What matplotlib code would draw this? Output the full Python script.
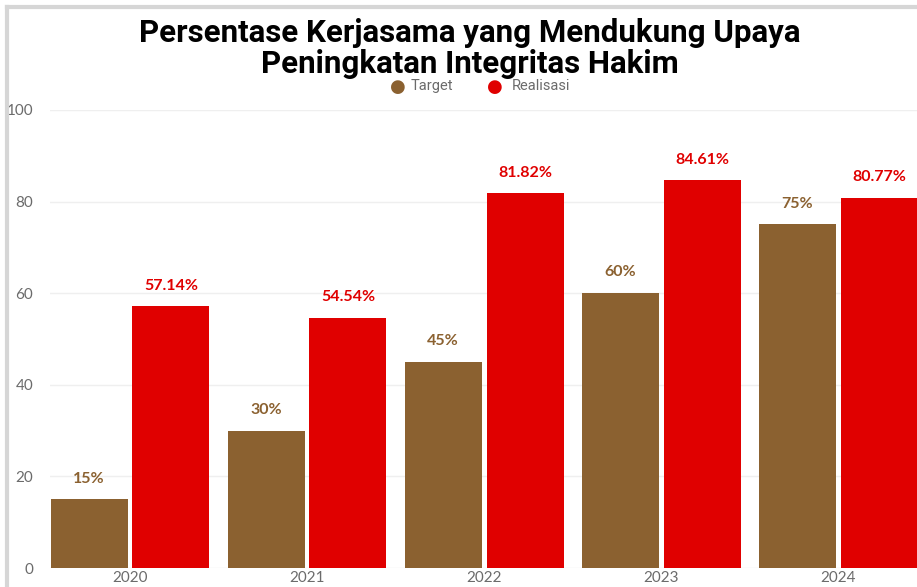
import numpy as np
import matplotlib.pyplot as plt
from matplotlib.lines import Line2D

# data
years = ['2020', '2021', '2022', '2023', '2024']
target = [15, 30, 45, 60, 75]
realisasi = [57.14, 54.54, 81.82, 84.61, 80.77]
target_lbl = ['15%', '30%', '45%', '60%', '75%']
real_lbl = ['57.14%', '54.54%', '81.82%', '84.61%', '80.77%']

c_target = '#8B6130'
c_real = '#E00000'
tick_col = '#6b6b6b'

fig = plt.figure(figsize=(9.17, 5.87), dpi=100)
fig.patch.set_facecolor('white')

# grey frame of the screenshot
fig.add_artist(Line2D([0.008, 0.008], [0, 0.988], transform=fig.transFigure,
                      color='#d6d6d6', lw=3))
fig.add_artist(Line2D([0.008, 1.0], [0.988, 0.988], transform=fig.transFigure,
                      color='#d6d6d6', lw=3))

ax = fig.add_axes([50/917, 19/587, 867/917, 458/587])
x = np.arange(len(years))
w = 0.435
off = w/2 + 0.014
ax.bar(x - off, target, w, color=c_target, zorder=3)
ax.bar(x + off, realisasi, w, color=c_real, zorder=3)

for i in range(len(years)):
    ax.text(x[i] - off, target[i] + 3.0, target_lbl[i], ha='center', va='bottom',
            color=c_target, fontsize=11.5, fontweight='bold', family='Lato')
    ax.text(x[i] + off, realisasi[i] + 3.0, real_lbl[i], ha='center', va='bottom',
            color=c_real, fontsize=11.5, fontweight='bold', family='Lato')

ax.set_xlim(-0.452, 4.446)
ax.set_ylim(0, 100)
ax.set_yticks([0, 20, 40, 60, 80, 100])
ax.set_xticks(x)
ax.set_xticklabels(years)
ax.grid(axis='y', color='#efefef', lw=1, zorder=0)
for s in ax.spines.values():
    s.set_visible(False)
ax.tick_params(length=0, colors=tick_col, labelsize=11)
ax.tick_params(axis='y', pad=12)
ax.tick_params(axis='x', pad=2)
for lab in ax.get_xticklabels() + ax.get_yticklabels():
    lab.set_family('Lato')

fig.text(0.512, 0.944, 'Persentase Kerjasama yang Mendukung Upaya', ha='center',
         va='center', fontsize=22.5, fontweight='bold', family='Roboto', color='black')
fig.text(0.512, 0.891, 'Peningkatan Integritas Hakim', ha='center',
         va='center', fontsize=22.5, fontweight='bold', family='Roboto', color='black')

# legend
fig.text(0.434, 0.852, '\u25CF', color=c_target, fontsize=13, ha='center', va='center')
fig.text(0.4475, 0.854, 'Target', color=tick_col, fontsize=10.5, ha='left', va='center',
         family='Roboto')
fig.text(0.54, 0.852, '\u25CF', color=c_real, fontsize=13, ha='center', va='center')
fig.text(0.558, 0.854, 'Realisasi', color=tick_col, fontsize=10.5, ha='left', va='center',
         family='Roboto')

fig.savefig('out.png', dpi=100)
